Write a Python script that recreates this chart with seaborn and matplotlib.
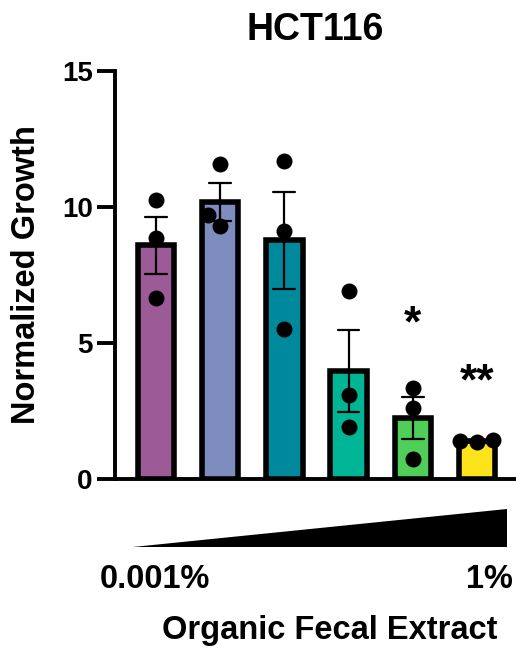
import matplotlib
matplotlib.use("Agg")
import matplotlib.pyplot as plt
from matplotlib.patches import Polygon
import seaborn as sns
import pandas as pd

# six doses of organic fecal extract, low -> high (only the ends are labelled)
dose_levels = ["d1", "d2", "d3", "d4", "d5", "d6"]
low_label = "0.001%"
high_label = "1%"

# replicate values (normalized growth)
growth_d1 = [10.26, 8.86, 6.65]
growth_d2 = [11.58, 9.30, 9.70]
growth_d3 = [11.69, 9.12, 5.51]
growth_d4 = [6.91, 3.09, 1.91]
growth_d5 = [3.35, 2.61, 0.74]
growth_d6 = [1.36, 1.40, 1.44]

bar_colors = ["#9C5A97", "#7F8DBE", "#00889C", "#00B596", "#50CF58", "#FDE31B"]

# significance marks: (dose, height, text)
sig_doses = ["d5", "d6"]
sig_heights = [5.25, 3.1]
sig_texts = ["*", "**"]

title = "HCT116"
y_label = "Normalized Growth"
x_label = "Organic Fecal Extract"

rows = []
for dose, vals in zip(dose_levels, [growth_d1, growth_d2, growth_d3,
                                    growth_d4, growth_d5, growth_d6]):
    for v in vals:
        rows.append({"dose": dose, "growth": v})
df = pd.DataFrame(rows)

sns.set_style("white")
plt.rcParams["font.family"] = ["Liberation Sans", "DejaVu Sans"]
plt.rcParams["font.weight"] = "bold"
plt.rcParams["text.color"] = "black"
plt.rcParams["axes.labelcolor"] = "black"
plt.rcParams["ytick.color"] = "black"

W, H = 516, 648
fig = plt.figure(figsize=(W / 100, H / 100), dpi=100)
ax = fig.add_axes([115 / W, 1 - 479 / H, (W - 115) / W, (479 - 71) / H])

sns.barplot(data=df, x="dose", y="growth", hue="dose", order=dose_levels,
            hue_order=dose_levels, palette=bar_colors, errorbar="se",
            capsize=0.34, err_kws={"color": "black", "linewidth": 1.6},
            width=0.565, saturation=1, edgecolor="black", linewidth=4,
            dodge=False, legend=False, ax=ax)
sns.swarmplot(data=df, x="dose", y="growth", order=dose_levels,
              color="black", size=11.5, zorder=3, ax=ax)

for d, h, t in zip(sig_doses, sig_heights, sig_texts):
    ax.text(dose_levels.index(d), h, t, ha="center", va="baseline",
            fontsize=32, fontweight="bold", color="black")

ax.set_ylim(0, 15)
ax.set_xlim(-0.64, 5.61)
ax.set_yticks([0, 5, 10, 15])
ax.set_xticks([])
ax.set_xlabel("")
ax.set_ylabel(y_label, fontsize=23.5, fontweight="bold", labelpad=14,
              color="black")
ax.set_title(title, fontsize=27, fontweight="bold", pad=22, color="black")
ax.tick_params(axis="y", length=13, width=2.8, pad=3, labelsize=20,
               color="black", labelcolor="black", left=True)
for lab in ax.get_yticklabels():
    lab.set_fontweight("bold")
sns.despine(ax=ax)
for side in ["left", "bottom"]:
    ax.spines[side].set_linewidth(2.8)
    ax.spines[side].set_color("black")

# dose ramp wedge below the axis
tri = Polygon([(133 / W, 1 - 547 / H), (507 / W, 1 - 547 / H), (507 / W, 1 - 509 / H)],
              closed=True, transform=fig.transFigure, facecolor="black",
              edgecolor="none")
fig.patches.append(tri)
fig.text(100 / W, 1 - 588 / H, low_label, ha="left", va="baseline",
         fontsize=23.5, fontweight="bold", color="black")
fig.text(513 / W, 1 - 588 / H, high_label, ha="right", va="baseline",
         fontsize=23.5, fontweight="bold", color="black")
fig.text(330 / W, 1 - 639 / H, x_label, ha="center", va="baseline",
         fontsize=23.5, fontweight="bold", color="black")

fig.savefig("out.png", dpi=100)
